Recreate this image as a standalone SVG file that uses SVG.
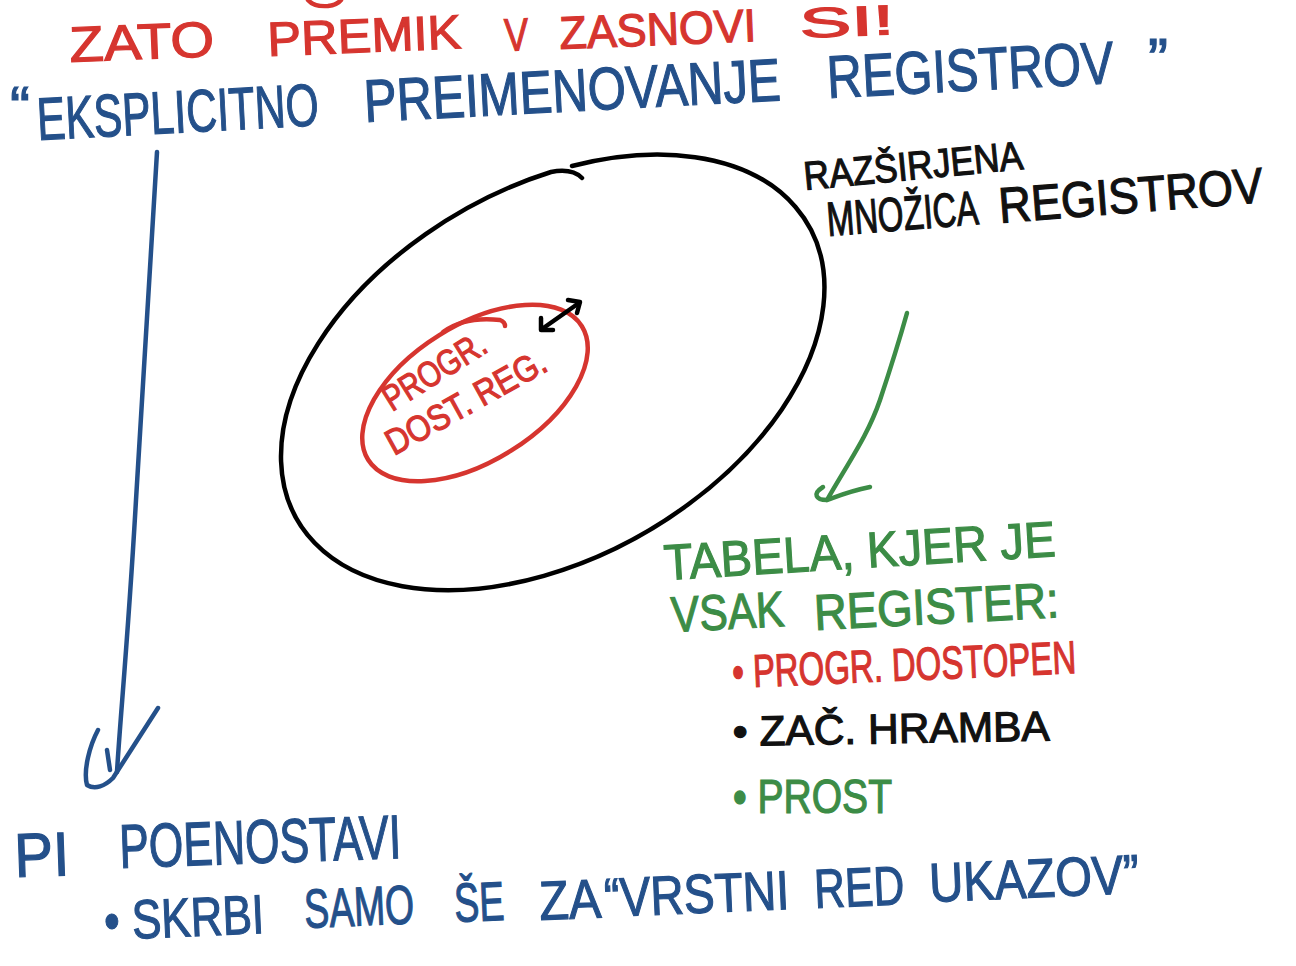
<svg xmlns="http://www.w3.org/2000/svg" width="1296" height="966" viewBox="0 0 1296 966">
<style>
text{font-family:"Liberation Sans","DejaVu Sans",sans-serif}
.r{fill:#d6352f;stroke:#d6352f;stroke-width:1.2}
.b{fill:#24508a;stroke:#24508a;stroke-width:1.2}
.g{fill:#3c8c46;stroke:#3c8c46;stroke-width:1.2}
.k{fill:#111;stroke:#111;stroke-width:1.2}
.ln{fill:none;stroke-width:4.5;stroke-linecap:round;stroke-linejoin:round}
</style>
<rect width="1296" height="966" fill="#fff"/>
<g id="title">
<path class="ln" stroke="#d6352f" d="M308 0 Q314 7 328 6 Q337 5 341 0"/>
<text class="r" font-size="50" x="70" y="62" textLength="145" lengthAdjust="spacingAndGlyphs" transform="rotate(-2.3 70 62)">ZATO</text>
<text class="r" font-size="48" x="268" y="56" textLength="194" lengthAdjust="spacingAndGlyphs" transform="rotate(-2.3 268 56)">PREMIK</text>
<text class="r" font-size="46" x="505" y="51" textLength="24" lengthAdjust="spacingAndGlyphs" transform="rotate(-2.3 505 51)">V</text>
<text class="r" font-size="46" x="560" y="49" textLength="197" lengthAdjust="spacingAndGlyphs" transform="rotate(-2.3 560 49)">ZASNOVI</text>
<text class="r" font-size="42" x="800" y="38" textLength="95" lengthAdjust="spacingAndGlyphs" transform="rotate(-2.3 800 38)">SI!</text>
</g>
<g id="heading">
<text class="b" font-size="60" x="10" y="128">“</text>
<text class="b" font-size="60" x="38" y="140" textLength="282" lengthAdjust="spacingAndGlyphs" transform="rotate(-3 38 140)">EKSPLICITNO</text>
<text class="b" font-size="60" x="365" y="122" textLength="417" lengthAdjust="spacingAndGlyphs" transform="rotate(-3 365 122)">PREIMENOVANJE</text>
<text class="b" font-size="60" x="828" y="98" textLength="287" lengthAdjust="spacingAndGlyphs" transform="rotate(-3 828 98)">REGISTROV</text>
<text class="b" font-size="60" x="1148" y="80">”</text>
</g>
<g id="outer-set">
<path class="ln" stroke="#000" d="M572 166 A295 185 -30 1 1 551 172 Q572 168 582 178"/>
<text class="k" font-size="40" x="805" y="190" textLength="220" lengthAdjust="spacingAndGlyphs" transform="rotate(-5.5 805 190)">RAZŠIRJENA</text>
<text class="k" font-size="48" x="828" y="236" textLength="152" lengthAdjust="spacingAndGlyphs" transform="rotate(-4.5 828 236)">MNOŽICA</text>
<text class="k" font-size="50" x="1000" y="223" textLength="265" lengthAdjust="spacingAndGlyphs" transform="rotate(-4.5 1000 223)">REGISTROV</text>
</g>
<g id="inner-set">
<ellipse class="ln" stroke="#d6352f" cx="475" cy="393" rx="126" ry="68" transform="rotate(-32 475 393)"/>
<path class="ln" stroke="#d6352f" d="M443 332 Q465 316 500 320 Q505 322 505 326"/>
<text class="r" font-size="36" x="392" y="412" textLength="115" lengthAdjust="spacingAndGlyphs" transform="rotate(-32 392 412)">PROGR.</text>
<text class="r" font-size="36" x="394" y="456" textLength="178" lengthAdjust="spacingAndGlyphs" transform="rotate(-29 394 456)">DOST. REG.</text>
</g>
<g id="table">
<text class="g" font-size="50" x="665" y="580" textLength="392" lengthAdjust="spacingAndGlyphs" transform="rotate(-3.5 665 580)">TABELA, KJER JE</text>
<text class="g" font-size="50" x="672" y="632" textLength="113" lengthAdjust="spacingAndGlyphs" transform="rotate(-3 672 632)">VSAK</text>
<text class="g" font-size="50" x="815" y="630" textLength="245" lengthAdjust="spacingAndGlyphs" transform="rotate(-3 815 630)">REGISTER:</text>
<text class="r" font-size="46" x="733" y="688" textLength="344" lengthAdjust="spacingAndGlyphs" transform="rotate(-2.5 733 688)">• PROGR. DOSTOPEN</text>
<text class="k" font-size="42" x="733" y="746" textLength="317" lengthAdjust="spacingAndGlyphs" transform="rotate(-1 733 746)">• ZAČ. HRAMBA</text>
<text class="g" font-size="48" x="733" y="813" textLength="159" lengthAdjust="spacingAndGlyphs">• PROST</text>
</g>
<g id="result">
<text class="b" font-size="62" x="15" y="877" textLength="55" lengthAdjust="spacingAndGlyphs" transform="rotate(-2 15 877)">PI</text>
<text class="b" font-size="62" x="120" y="868" textLength="282" lengthAdjust="spacingAndGlyphs" transform="rotate(-2 120 868)">POENOSTAVI</text>
<text class="b" font-size="55" x="105" y="940" textLength="160" lengthAdjust="spacingAndGlyphs" transform="rotate(-2.5 105 940)">• SKRBI</text>
<text class="b" font-size="55" x="305" y="928" textLength="110" lengthAdjust="spacingAndGlyphs" transform="rotate(-2.5 305 928)">SAMO</text>
<text class="b" font-size="55" x="455" y="922" textLength="50" lengthAdjust="spacingAndGlyphs" transform="rotate(-2.5 455 922)">ŠE</text>
<text class="b" font-size="55" x="540" y="920" textLength="62" lengthAdjust="spacingAndGlyphs" transform="rotate(-2.5 540 920)">ZA</text>
<text class="b" font-size="55" x="605" y="917" textLength="185" lengthAdjust="spacingAndGlyphs" transform="rotate(-2.5 605 917)">“VRSTNI</text>
<text class="b" font-size="55" x="815" y="908" textLength="90" lengthAdjust="spacingAndGlyphs" transform="rotate(-2.5 815 908)">RED</text>
<text class="b" font-size="55" x="930" y="902" textLength="210" lengthAdjust="spacingAndGlyphs" transform="rotate(-2.5 930 902)">UKAZOV”</text>
</g>
<g id="connectors">
<path class="ln" stroke="#24508a" d="M157 152 C152 220 145 350 136 500 C128 640 120 720 117 772"/>
<path class="ln" stroke="#24508a" d="M98 730 C90 745 83 770 87 785 C95 790 105 786 113 778 L158 708"/>
<path class="ln" stroke="#24508a" d="M107 750 L110 770"/>
<path class="ln" stroke="#3c8c46" d="M907 313 C898 345 890 370 880 400 C868 435 850 460 827 500"/>
<path class="ln" stroke="#3c8c46" d="M870 487 C850 491 838 496 827 500 C816 500 812 494 823 487"/>
<path class="ln" stroke="#000" d="M542 329 L579 303"/>
<path class="ln" stroke="#000" d="M541 318 L541 330 L553 330"/>
<path class="ln" stroke="#000" d="M568 300 L580 302 L577 313"/>
</g>
</svg>
